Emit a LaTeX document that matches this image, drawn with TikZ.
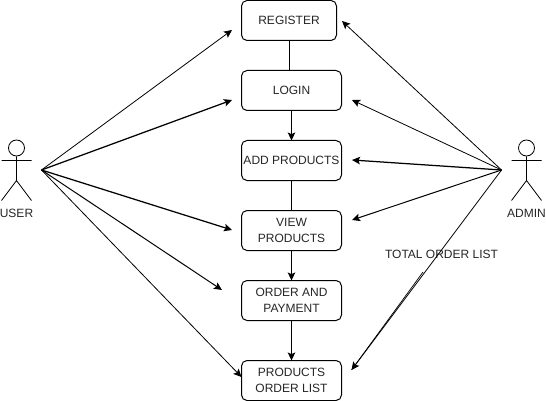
\documentclass[tikz,border=0pt]{standalone}
\usepackage{fontspec}
\setmainfont{Liberation Sans}
\usetikzlibrary{arrows.meta}
\tikzset{
  x=1pt,y=-1pt,
  box/.style={draw=black,line width=1pt,rounded corners=5.5pt,anchor=north west,inner sep=0pt,outer sep=0pt,align=center,font=\fontsize{12}{15.5}\selectfont,text=black!85},
  lbl/.style={inner sep=0pt,font=\fontsize{12}{15}\selectfont,text=black!85},
  link/.style={draw=black,line width=.8pt,-{Stealth[length=8pt,width=7.5pt,inset=1.6pt]}},
  heavy/.style={link,line width=1.25pt},
  plain/.style={draw=black,line width=1pt},
  limb/.style={draw=black,line width=.8pt}
}
\begin{document}
\begin{tikzpicture}
\useasboundingbox (0,0) rectangle (546,401);
\fill[white] (0,0) rectangle (546,401);
\node[box,minimum width=95pt,minimum height=40pt] (reg) at (241.5,0.5) {\raisebox{1pt}{REGISTER}};
\node[box,minimum width=100pt,minimum height=40pt] (log) at (241.5,70.5) {\raisebox{1pt}{LOGIN}};
\node[box,minimum width=100pt,minimum height=40pt] (add) at (241.5,140.5) {\raisebox{1pt}{ADD PRODUCTS}};
\node[box,minimum width=100pt,minimum height=40pt] (view) at (241.5,210.5) {VIEW\\PRODUCTS};
\node[box,minimum width=100pt,minimum height=40pt] (ord) at (241.5,280.5) {ORDER AND\\PAYMENT};
\node[box,minimum width=100pt,minimum height=40pt] (list) at (241.5,360.5) {PRODUCTS\\ORDER LIST};
% vertical connectors
\coordinate (regb) at (289,40.5);
\coordinate (logt) at (289,70.5);
\draw[plain] (regb) -- (logt);
\draw[heavy,line width=1pt] (log.south) -- (add.north);
\draw[plain] (add.south) -- (view.north);
\draw[heavy,line width=1pt] (view.south) -- (ord.north);
\draw[heavy,line width=1pt] (ord.south) -- (list.north);
% actors
\node[draw=black,line width=.8pt,circle,minimum size=16pt,inner sep=0pt] (uh) at (16.5,148) {};
\node[draw=black,line width=.8pt,circle,minimum size=16pt,inner sep=0pt] (ah) at (526.5,148) {};
\coordinate (ub) at (16.5,180.5);
\coordinate (ab) at (526.5,180.5);
\coordinate (us1) at (1.5,160.5);
\coordinate (us2) at (31.5,160.5);
\coordinate (as1) at (511.5,160.5);
\coordinate (as2) at (541.5,160.5);
\coordinate (ul1) at (1.5,200.5);
\coordinate (ul2) at (31.5,200.5);
\coordinate (al1) at (511.5,200.5);
\coordinate (al2) at (541.5,200.5);
\draw[limb] (uh.south) -- (ub) (us1) -- (us2) (ul1) -- (ub) -- (ul2);
\draw[limb] (ah.south) -- (ab) (as1) -- (as2) (al1) -- (ab) -- (al2);
\node[lbl] (ulab) at (16.5,213.5) {USER};
\node[lbl] (alab) at (526.5,213.5) {ADMIN};
\node[lbl] (tot) at (441.5,254.5) {TOTAL ORDER LIST};
% hubs and free ends
\coordinate (uhub) at (41.5,170);
\coordinate (ahub) at (501.5,170);
\coordinate (u1) at (232,30);
\coordinate (u2) at (232,100);
\coordinate (u3) at (232,230);
\coordinate (u4) at (222,290);
\coordinate (u5) at (241.5,377);
\coordinate (a1) at (342,21);
\coordinate (a2) at (352,100);
\coordinate (a3) at (352,160);
\coordinate (a4) at (352,220);
\coordinate (a5) at (351.5,370);
\coordinate (amid) at (423,272);
\draw[link] (uhub) -- (u1);
\draw[heavy] (uhub) -- (u2);
\draw[heavy] (uhub) -- (u3);
\draw[link,line width=1pt] (uhub) -- (u4);
\draw[link] (uhub) -- (u5);
\draw[link] (ahub) -- (a1);
\draw[link] (ahub) -- (a2);
\draw[heavy] (ahub) -- (a3);
\draw[link,line width=1pt] (ahub) -- (a4);
\draw[link] (ahub) -- (a5);
\draw[plain,line width=.7pt] (amid) -- (a5);
\end{tikzpicture}
\end{document}
